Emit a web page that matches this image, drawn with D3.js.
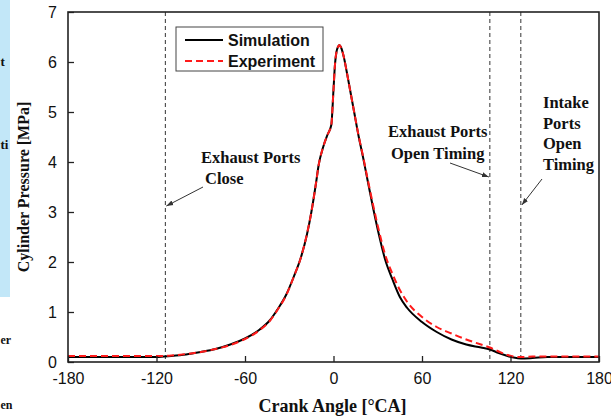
<!DOCTYPE html>
<html>
<head>
<meta charset="utf-8">
<script src="https://cdn.jsdelivr.net/npm/d3@7"></script>
<style>
  body { margin: 0; background: #fff; }
  svg { display: block; }
</style>
</head>
<body>
<svg id="chart" width="611" height="419"></svg>
<script>
// crank angle samples [°CA]
const angles = [-180, -150, -120, -110, -100, -90, -80, -70, -60, -50, -43, -38, -32, -27, -22, -18, -15, -12, -10, -7, -4, -1.5,
  0, 1, 2, 3, 4, 5, 7, 9, 11, 14, 17, 20, 23, 27, 31, 35, 40, 45, 50, 60, 70, 80, 90, 100, 106, 112, 118, 122, 127, 135, 145, 180];
// simulated cylinder pressure [MPa]
const simPressure = [0.10, 0.10, 0.10, 0.12, 0.15, 0.20, 0.26, 0.35, 0.47, 0.65, 0.84, 1.05, 1.35, 1.70, 2.10, 2.55, 3.00, 3.55, 3.95, 4.30, 4.55, 4.74,
  5.45, 5.95, 6.20, 6.30, 6.34, 6.30, 6.10, 5.80, 5.48, 5.00, 4.52, 4.10, 3.65, 3.06, 2.52, 2.05, 1.65, 1.30, 1.08, 0.80, 0.60, 0.45, 0.35, 0.29, 0.25, 0.18, 0.12, 0.09, 0.07, 0.08, 0.10, 0.10];
// measured cylinder pressure [MPa]
const expPressure = [0.12, 0.12, 0.12, 0.13, 0.16, 0.20, 0.26, 0.34, 0.46, 0.64, 0.83, 1.04, 1.34, 1.70, 2.10, 2.56, 3.00, 3.55, 3.95, 4.30, 4.55, 4.74,
  5.45, 5.95, 6.20, 6.30, 6.34, 6.30, 6.10, 5.80, 5.48, 5.00, 4.53, 4.12, 3.68, 3.12, 2.60, 2.15, 1.76, 1.44, 1.20, 0.90, 0.70, 0.57, 0.45, 0.35, 0.29, 0.21, 0.14, 0.11, 0.10, 0.11, 0.11, 0.11];

const xTicks = [-180, -120, -60, 0, 60, 120, 180];
const yTicks = [0, 1, 2, 3, 4, 5, 6, 7];
// port timing markers [°CA]
const portLines = [-114, 106, 127];

const seriesNames = ["Simulation", "Experiment"];

const svg = d3.select("#chart");
const margin = { left: 68, right: 12, top: 12, bottom: 57 };
const W = 611, H = 419;

const x = d3.scaleLinear().domain([-180, 180]).range([margin.left, W - margin.right]);
const y = d3.scaleLinear().domain([0, 7]).range([H - margin.bottom, margin.top]);

const serif = "'Liberation Serif', 'Times New Roman', serif";
const sans = "'Liberation Sans', Arial, sans-serif";

// leftover blue panel from the page this figure was cut from
svg.append("rect").attr("x", 0).attr("y", 0).attr("width", 10).attr("height", 297).attr("fill", "#c2e7f8");
const frags = [["t", 66, 13], ["ti", 149, 13], ["er", 344, 12], ["en", 409, 12]];
svg.selectAll(".frag").data(frags).join("text")
  .attr("class", "frag")
  .attr("x", 0.5)
  .attr("y", d => d[1])
  .attr("font-family", serif).attr("font-weight", "bold").attr("font-size", d => d[2])
  .attr("fill", "#111")
  .text(d => d[0]);

// port timing dashed lines
svg.selectAll(".port").data(portLines).join("line")
  .attr("class", "port")
  .attr("x1", d => x(d)).attr("x2", d => x(d))
  .attr("y1", y(7)).attr("y2", y(0))
  .attr("stroke", "#333").attr("stroke-width", 1).attr("stroke-dasharray", "4,3");

// curves
const line = d3.line().x((d, i) => x(angles[i])).y(d => y(d)).curve(d3.curveMonotoneX);

svg.append("path").datum(simPressure)
  .attr("d", line).attr("fill", "none")
  .attr("stroke", "#000").attr("stroke-width", 2);

svg.append("path").datum(expPressure)
  .attr("d", line).attr("fill", "none")
  .attr("stroke", "#ff1a1a").attr("stroke-width", 2).attr("stroke-dasharray", "7,4");

// axes (ticks drawn inward), plain hyphen for negatives
const xAxis = d3.axisBottom(x).tickValues(xTicks).tickSize(-6).tickPadding(10).tickFormat(d => String(d));
const yAxis = d3.axisLeft(y).tickValues(yTicks).tickSize(-6).tickPadding(11).tickFormat(d => String(d));

const gx = svg.append("g").attr("transform", `translate(0,${y(0)})`).call(xAxis);
const gy = svg.append("g").attr("transform", `translate(${x(-180)},0)`).call(yAxis);
[gx, gy].forEach(g => {
  g.select(".domain").remove();
  g.selectAll(".tick line").attr("stroke", "#222").attr("stroke-width", 1.3);
  g.selectAll(".tick text").attr("font-family", sans).attr("font-size", 16).attr("fill", "#111");
});
gx.selectAll(".tick text").attr("dy", "0.75em");

// frame
svg.append("rect")
  .attr("x", x(-180)).attr("y", y(7))
  .attr("width", x(180) - x(-180)).attr("height", y(0) - y(7))
  .attr("fill", "none").attr("stroke", "#222").attr("stroke-width", 1.6);

// axis titles
svg.append("text")
  .attr("x", (x(-180) + x(180)) / 2 - 1).attr("y", 412)
  .attr("text-anchor", "middle")
  .attr("font-family", serif).attr("font-weight", "bold").attr("font-size", 18)
  .attr("fill", "#111")
  .text("Crank Angle [°CA]");

svg.append("text")
  .attr("transform", "translate(29,187) rotate(-90)")
  .attr("text-anchor", "middle")
  .attr("font-family", serif).attr("font-weight", "bold").attr("font-size", 16)
  .attr("fill", "#111")
  .text("Cylinder Pressure [MPa]");

// legend
const lg = svg.append("g").attr("transform", "translate(176,27)");
lg.append("rect").attr("width", 147).attr("height", 44)
  .attr("fill", "#fff").attr("stroke", "#444").attr("stroke-width", 1);
const legendStyles = [{ stroke: "#000", dash: null }, { stroke: "#ff1a1a", dash: "7,4" }];
seriesNames.forEach((name, i) => {
  const yy = 13 + i * 21;
  lg.append("line").attr("x1", 9).attr("x2", 47).attr("y1", yy).attr("y2", yy)
    .attr("stroke", legendStyles[i].stroke).attr("stroke-width", 2)
    .attr("stroke-dasharray", legendStyles[i].dash);
  lg.append("text").attr("x", 52).attr("y", yy + 6)
    .attr("font-family", sans).attr("font-weight", "bold").attr("font-size", 16)
    .attr("fill", "#111").text(name);
});

// annotations
svg.append("defs").append("marker")
  .attr("id", "arrow").attr("viewBox", "0 0 10 10")
  .attr("refX", 10).attr("refY", 5)
  .attr("markerWidth", 7).attr("markerHeight", 7)
  .attr("orient", "auto")
  .append("path").attr("d", "M0,1.5 L10,5 L0,8.5 z").attr("fill", "#333");

const notes = [
  { lines: ["Exhaust Ports", "Close"], xs: [201, 205], y0: 163, step: 20.5 },
  { lines: ["Exhaust Ports", "Open Timing"], xs: [388, 391], y0: 137, step: 22 },
  { lines: ["Intake", "Ports", "Open", "Timing"], xs: [543, 543, 543, 543], y0: 108, step: 20.7 }
];
notes.forEach(n => {
  n.lines.forEach((t, i) => {
    svg.append("text").attr("x", n.xs[i]).attr("y", n.y0 + i * n.step)
      .attr("font-family", serif).attr("font-weight", "bold").attr("font-size", 16.5)
      .attr("fill", "#111").text(t);
  });
});

const arrows = [
  { from: [203, 187], to: [x(portLines[0]) + 1, 206] },
  { from: [450, 163], to: [x(portLines[1]) - 1, 177] },
  { from: [542, 179], to: [x(portLines[2]) + 1, 205] }
];
svg.selectAll(".arrow").data(arrows).join("line")
  .attr("class", "arrow")
  .attr("x1", d => d.from[0]).attr("y1", d => d.from[1])
  .attr("x2", d => d.to[0]).attr("y2", d => d.to[1])
  .attr("stroke", "#333").attr("stroke-width", 1)
  .attr("marker-end", "url(#arrow)");
</script>
</body>
</html>
